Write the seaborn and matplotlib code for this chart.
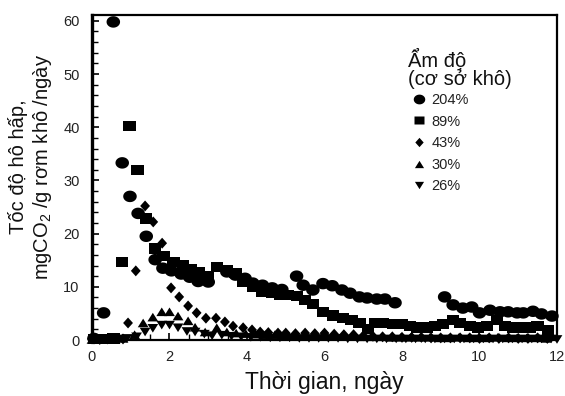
import numpy as np
import pandas as pd
import matplotlib
matplotlib.use("Agg")
import matplotlib.pyplot as plt
from matplotlib.path import Path
from matplotlib.lines import Line2D
from matplotlib.ticker import MultipleLocator
import seaborn as sns

# ---------------- data ----------------
x204 = [0.05, 0.3, 0.55, 0.78, 0.98, 1.19, 1.4, 1.63, 1.83, 2.05,
        2.3, 2.52, 2.74, 3.0, 3.48, 3.7, 3.95, 4.15, 4.4, 4.65,
        4.9, 5.28, 5.45, 5.7, 5.96, 6.2, 6.45, 6.66, 6.9, 7.1,
        7.35, 7.56, 7.82, 9.1, 9.32, 9.57, 9.8, 10.0, 10.27, 10.53,
        10.74, 10.97, 11.13, 11.38, 11.6, 11.87]
y204 = [0.3, 5.1, 59.8, 33.3, 27.0, 23.8, 19.5, 15.1, 13.5, 13.0,
        12.4, 11.8, 11.0, 10.9, 12.8, 12.2, 11.6, 10.7, 10.3, 9.8,
        9.5, 12.0, 10.3, 9.4, 10.6, 10.2, 9.4, 8.8, 8.1, 7.9,
        7.7, 7.7, 7.0, 8.1, 6.6, 6.0, 6.2, 5.1, 5.6, 5.3,
        5.3, 5.1, 5.1, 5.4, 4.9, 4.5]

x89 = [0.05, 0.3, 0.55, 0.78, 0.97, 1.17, 1.4, 1.63, 1.85, 2.1,
       2.35, 2.55, 2.75, 3.0, 3.23, 3.48, 3.7, 3.9, 4.15, 4.38,
       4.65, 4.85, 5.06, 5.29, 5.5, 5.7, 5.96, 6.22, 6.48, 6.7,
       6.9, 7.12, 7.3, 7.5, 7.77, 8.0, 8.2, 8.4, 8.64, 8.85,
       9.06, 9.32, 9.5, 9.75, 9.96, 10.2, 10.45, 10.66, 10.87, 11.1,
       11.3, 11.5, 11.77]
y89 = [0.2, 0.2, 0.3, 14.7, 40.2, 32.0, 22.8, 17.2, 15.8, 14.7,
       14.1, 13.3, 12.8, 12.0, 13.7, 13.2, 12.6, 10.9, 10.0, 9.0,
       8.8, 8.5, 8.5, 8.3, 7.5, 6.8, 5.3, 4.6, 4.1, 3.8,
       3.2, 2.1, 3.2, 3.2, 3.0, 3.0, 2.6, 2.4, 2.4, 2.6,
       3.0, 3.8, 3.2, 2.6, 2.4, 2.6, 3.8, 2.6, 2.4, 2.4,
       2.4, 2.6, 1.9]

x43 = [0.0, 0.2, 0.4, 0.6, 0.8, 0.93, 1.13, 1.37, 1.58, 1.81,
       2.04, 2.25, 2.48, 2.7, 2.94, 3.2, 3.43, 3.64, 3.9, 4.13,
       4.34, 4.55, 4.8, 5.0, 5.25, 5.5, 5.75, 6.0, 6.25, 6.5,
       6.75, 7.0, 7.25, 7.5, 7.75, 8.0, 8.25, 8.5, 8.75, 9.0,
       9.25, 9.5, 9.75, 10.0, 10.25, 10.5, 10.75, 11.0, 11.25, 11.5,
       11.75]
y43 = [0.2, 0.1, 0.2, 0.3, 0.2, 3.2, 13.0, 25.2, 22.2, 18.2,
       9.8, 8.1, 6.4, 5.1, 4.1, 4.1, 3.4, 2.6, 2.3, 1.9,
       1.5, 1.4, 1.3, 1.3, 1.2, 1.3, 1.2, 1.3, 1.1, 1.0,
       1.0, 0.8, 0.7, 0.6, 0.6, 0.5, 0.5, 0.5, 0.4, 0.4,
       0.4, 0.4, 0.4, 0.3, 0.4, 0.3, 0.4, 0.3, 0.3, 0.4,
       0.3]

x30 = [0.0, 0.2, 0.4, 0.6, 0.8, 1.1, 1.32, 1.57, 1.8, 2.0,
       2.22, 2.48, 2.66, 2.92, 3.22, 3.48, 3.72, 3.97, 4.22, 4.47,
       4.72, 4.97, 5.22, 5.47, 5.72, 5.97, 6.22, 6.47, 6.72, 6.97,
       7.22, 7.47, 7.72, 7.97, 8.22, 8.47, 8.72, 8.97, 9.22, 9.47,
       9.72, 9.97, 10.22, 10.47, 10.72, 10.97, 11.22, 11.47, 11.72]
y30 = [0.1, 0.1, 0.1, 0.2, 0.3, 1.0, 3.2, 4.3, 5.3, 5.3,
       4.5, 3.6, 2.4, 1.5, 2.3, 1.5, 1.3, 1.2, 1.1, 1.0,
       1.0, 0.9, 0.9, 0.9, 0.8, 0.8, 0.8, 0.7, 0.7, 0.6,
       0.6, 0.6, 0.5, 0.5, 0.5, 0.5, 0.5, 0.4, 0.4, 0.5,
       0.4, 0.4, 0.4, 0.5, 0.4, 0.4, 0.4, 0.4, 0.3]

x26 = [0.1, 0.3, 0.5, 0.7, 0.9, 1.15, 1.37, 1.57, 1.8, 2.0,
       2.22, 2.45, 2.66, 2.9, 3.1, 3.35, 3.6, 3.85, 4.1, 4.35,
       4.6, 4.85, 5.1, 5.35, 5.6, 5.85, 6.1, 6.35, 6.6, 6.85,
       7.1, 7.35, 7.6, 7.85, 8.1, 8.35, 8.6, 8.85, 9.1, 9.35,
       9.6, 9.85, 10.1, 10.35, 10.6, 10.85, 11.1, 11.35, 11.6, 11.85,
       12.0]
y26 = [0.1, 0.1, 0.1, 0.2, 0.3, 0.6, 1.5, 2.2, 2.8, 2.8,
       2.3, 1.6, 1.5, 1.1, 0.8, 0.9, 0.7, 0.6, 0.5, 0.5,
       0.4, 0.4, 0.4, 0.3, 0.3, 0.3, 0.3, 0.3, 0.2, 0.2,
       0.2, 0.2, 0.2, 0.2, 0.2, 0.2, 0.2, 0.2, 0.2, 0.2,
       0.2, 0.2, 0.2, 0.2, 0.2, 0.2, 0.2, 0.2, 0.2, 0.2,
       0.1]

series_labels = ["204%", "89%", "43%", "30%", "26%"]
legend_title = ["Ẩm độ", "(cơ sở khô)"]
x_label = "Thời gian, ngày"
y_label = "Tốc độ hô hấp,\nmgCO$_2$ /g rơm khô /ngày"
x_ticks = [0, 2, 4, 6, 8, 10, 12]
y_ticks = [0, 10, 20, 30, 40, 50, 60]

# ---------------- style ----------------
sns.set_theme(style="white")
plt.rcParams["font.family"] = ["Liberation Sans", "DejaVu Sans"]
plt.rcParams["mathtext.fontset"] = "custom"
plt.rcParams["mathtext.rm"] = "Liberation Sans"
plt.rcParams["mathtext.it"] = "Liberation Sans"

def ellipse_path(rx, ry, n=40):
    t = np.linspace(0, 2 * np.pi, n)
    verts = np.column_stack([rx * np.cos(t), ry * np.sin(t)])
    return Path(verts, closed=True)

def poly_path(pts):
    pts = list(pts) + [pts[0]]
    return Path(np.array(pts, float), closed=True)

m_circle = ellipse_path(1.0, 0.85)
m_square = poly_path([(-1, -0.85), (1, -0.85), (1, 0.85), (-1, 0.85)])
m_diamond = poly_path([(0, 1), (0.9, 0), (0, -1), (-0.9, 0)])
m_up = poly_path([(0, 0.8), (1, -0.8), (-1, -0.8)])
m_down = poly_path([(0, -0.8), (1, 0.8), (-1, 0.8)])

W, H = 565, 396
fig = plt.figure(figsize=(W / 100, H / 100), dpi=100)
L, R, T, B = 92, 557, 15, 340
ax = fig.add_axes([L / W, 1 - B / H, (R - L) / W, (B - T) / H])

series = [
    (x204, y204, m_circle, 95),
    (x89, y89, m_square, 80),
    (x43, y43, m_diamond, 62),
    (x30, y30, m_up, 60),
    (x26, y26, m_down, 60),
]
for xs, ys, mk, s in series:
    df = pd.DataFrame({"t": xs, "v": ys})
    sns.scatterplot(data=df, x="t", y="v", marker=mk, s=s, color="black",
                    edgecolor="none", linewidth=0, ax=ax, clip_on=False,
                    zorder=3, legend=False)

ax.set_xlim(0, 12)
ax.set_ylim(0, 61.1)
ax.set_xticks(x_ticks)
ax.set_yticks(y_ticks)
ax.xaxis.set_minor_locator(MultipleLocator(0.5))
ax.yaxis.set_minor_locator(MultipleLocator(2))
ax.tick_params(axis="both", which="both", direction="in", colors="black",
               labelcolor="#222222", labelsize=10.5, left=True, bottom=True)
ax.tick_params(axis="both", which="major", length=5, width=1.2)
ax.tick_params(axis="both", which="minor", length=4, width=1.0)
ax.tick_params(axis="y", which="major", pad=9)
ax.tick_params(axis="x", which="major", pad=7)
ax.set_xlabel("")
ax.set_ylabel("")
for side, lw in [("left", 2.4), ("bottom", 1.6), ("top", 1.6), ("right", 1.6)]:
    ax.spines[side].set_visible(True)
    ax.spines[side].set_color("black")
    ax.spines[side].set_linewidth(lw)

# axis labels
fig.text((L + R) / 2 / W, 1 - 382 / H, x_label, ha="center", va="center",
         fontsize=16.5, color="#111111")
fig.text(31 / W, 1 - 167 / H, y_label, ha="center", va="center",
         rotation=90, fontsize=14.5, color="#111111", multialignment="center",
         linespacing=1.15)

# legend title
fig.text(408 / W, 1 - 67 / H, legend_title[0], ha="left", va="baseline",
         fontsize=14.5, color="#111111")
fig.text(408 / W, 1 - 85 / H, legend_title[1], ha="left", va="baseline",
         fontsize=14.5, color="#111111")

handles = [Line2D([], [], linestyle="none", marker=mk, markersize=np.sqrt(s) * 0.85,
                  markerfacecolor="black", markeredgecolor="none")
           for (_, _, mk, s) in series]
leg = ax.legend(handles, series_labels, loc="upper left",
                bbox_to_anchor=(412 / W, 1 - 93 / H), bbox_transform=fig.transFigure,
                frameon=False, fontsize=10.5, handlelength=1.0, handletextpad=0.35,
                labelspacing=0.52, borderpad=0, borderaxespad=0)
for t in leg.get_texts():
    t.set_color("#222222")

fig.savefig("out.png", dpi=100)
